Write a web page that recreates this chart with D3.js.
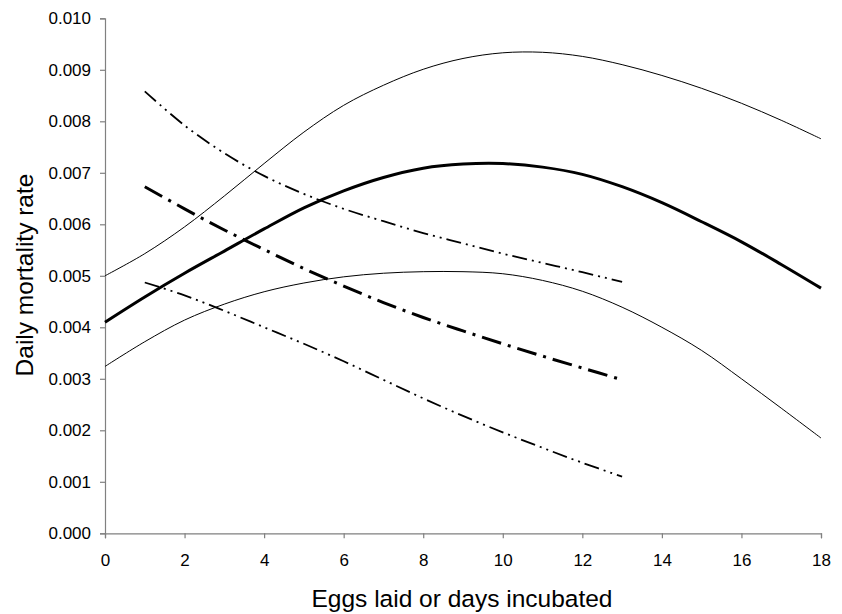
<!DOCTYPE html>
<html>
<head>
<meta charset="utf-8">
<script src="https://cdn.jsdelivr.net/npm/d3@7"></script>
<style>
  body { margin: 0; background: #fff; }
  text { font-family: Arial, "Liberation Sans", sans-serif; fill: #000; }
</style>
</head>
<body>
<div id="chart"></div>
<script>

// incubation curves (solid): estimate and confidence limits
var incDays = [0, 1, 2, 3, 4, 5, 6, 7, 8, 9, 10, 11, 12, 13, 14, 15, 16, 17, 18];
var incMean = [0.00410, 0.00459, 0.00505, 0.00548, 0.00591, 0.00632, 0.00665, 0.00691, 0.00709, 0.00717,
               0.00718, 0.00711, 0.00697, 0.00673, 0.00642, 0.00605, 0.00566, 0.00522, 0.00476];
var incUpper = [0.00500, 0.00543, 0.00595, 0.00655, 0.00718, 0.00779, 0.00831, 0.00870, 0.00901, 0.00922,
                0.00933, 0.00934, 0.00926, 0.00910, 0.00889, 0.00864, 0.00835, 0.00802, 0.00766];
var incLower = [0.00324, 0.00372, 0.00414, 0.00445, 0.00469, 0.00486, 0.00498, 0.00505, 0.00508, 0.00508,
                0.00504, 0.00491, 0.00470, 0.00439, 0.00400, 0.00355, 0.00300, 0.00243, 0.00185];

// laying curves (dashed): estimate and confidence limits
var layDays = [1, 2, 3, 4, 5, 6, 7, 8, 9, 10, 11, 12, 13];
var layMean = [0.00673, 0.00630, 0.00589, 0.00551, 0.00514, 0.00480, 0.00448, 0.00419, 0.00393, 0.00368, 0.00344, 0.00321, 0.00298];
var layUpper = [0.00858, 0.00792, 0.00738, 0.00694, 0.00659, 0.00630, 0.00606, 0.00583, 0.00563, 0.00543, 0.00525, 0.00507, 0.00488];
var layLower = [0.00487, 0.00462, 0.00432, 0.00400, 0.00368, 0.00334, 0.00298, 0.00262, 0.00228, 0.00196, 0.00166, 0.00137, 0.00110];

var xTicks = [0, 2, 4, 6, 8, 10, 12, 14, 16, 18];
var yTicks = [0, 0.001, 0.002, 0.003, 0.004, 0.005, 0.006, 0.007, 0.008, 0.009, 0.010];

var width = 842, height = 614;

var svg = d3.select("#chart").append("svg")
  .attr("width", width)
  .attr("height", height);

var x = d3.scaleLinear().domain([0, 18]).range([105, 821]);
var y = d3.scaleLinear().domain([0, 0.010]).range([533.3, 18.3]);

// axes
var xAxis = svg.append("g")
  .attr("transform", "translate(0," + y(0) + ")")
  .call(d3.axisBottom(x).tickValues(xTicks).tickFormat(d3.format("d")).tickSizeOuter(0).tickSize(5).tickPadding(16));

var yAxis = svg.append("g")
  .attr("transform", "translate(" + x(0) + ",0)")
  .call(d3.axisLeft(y).tickValues(yTicks).tickFormat(d3.format(".3f")).tickSizeOuter(0).tickSize(5).tickPadding(9));

[xAxis, yAxis].forEach(function(a) {
  a.select(".domain").attr("stroke", "#808080").attr("stroke-width", 1.2);
  a.selectAll(".tick line").attr("stroke", "#808080").attr("stroke-width", 1.2);
  a.selectAll(".tick text").style("font-size", "17px").attr("fill", "#000");
});

// lines
function drawLine(xs, ys, w, dash) {
  var line = d3.line()
    .x(function(d, i) { return x(xs[i]); })
    .y(function(d) { return y(d); })
    .curve(d3.curveCatmullRom.alpha(0.5));
  svg.append("path")
    .datum(ys)
    .attr("d", line)
    .attr("fill", "none")
    .attr("stroke", "#000")
    .attr("stroke-width", w)
    .attr("stroke-dasharray", dash || null);
}

drawLine(incDays, incUpper, 1);
drawLine(incDays, incLower, 1);
drawLine(incDays, incMean, 3);

drawLine(layDays, layMean, 3, "20,7,3,7");
drawLine(layDays, layUpper, 1.8, "15,5,2,5,2,5");
drawLine(layDays, layLower, 1.8, "15,5,2,5,2,5");

// axis titles
svg.append("text")
  .attr("x", 462)
  .attr("y", 607)
  .attr("text-anchor", "middle")
  .style("font-size", "24.5px")
  .text("Eggs laid or days incubated");

svg.append("text")
  .attr("transform", "translate(33,275) rotate(-90)")
  .attr("text-anchor", "middle")
  .style("font-size", "24.5px")
  .text("Daily mortality rate");

</script>
</body>
</html>
